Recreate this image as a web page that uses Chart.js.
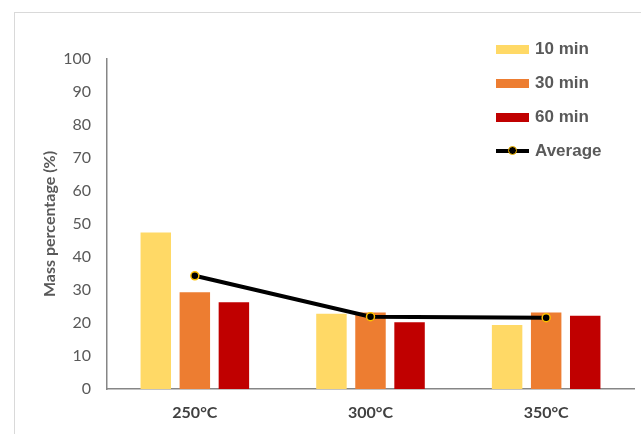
<!DOCTYPE html>
<html>
<head>
<meta charset="utf-8">
<script src="https://cdn.jsdelivr.net/npm/chart.js@4.4.1/dist/chart.umd.min.js"></script>
<style>
  html, body { margin: 0; padding: 0; background: #fff; overflow: hidden; }
  .frame {
    position: absolute; left: 14px; top: 12px; width: 700px; height: 500px;
    border-left: 1px solid #d9d9d9; border-top: 1px solid #d9d9d9;
  }
  #chart { position: absolute; left: 0; top: 0; }
  .legend { position: absolute; left: 496px; top: 0; }
  .legend__item {
    position: absolute; left: 0; width: 140px; height: 20px;
    font: bold 17px "Liberation Sans", Arial, sans-serif; color: #595959;
  }
  .legend__swatch { position: absolute; left: 0; top: 6px; width: 33px; height: 9px; }
  .legend__line { position: absolute; left: 0; top: 8px; width: 33px; height: 4px; background: #000; }
  .legend__dot {
    position: absolute; left: 12px; top: -3px; width: 7px; height: 7px; border-radius: 50%;
    background: #000; border: 1.5px solid #ffc000;
  }
  .legend__label { position: absolute; left: 39px; top: 0; line-height: 20px; white-space: nowrap; }
</style>
</head>
<body>
<div class="frame"></div>
<canvas id="chart" width="641" height="434"></canvas>
<div class="legend" id="legend"></div>
<script>
  const categories = ['250°C', '300°C', '350°C']
  const tenMin = [47.4, 22.8, 19.4]
  const thirtyMin = [29.3, 23.2, 23.2]
  const sixtyMin = [26.3, 20.2, 22.2]
  const average = [34.3, 21.9, 21.6]
  const yTicks = [0, 10, 20, 30, 40, 50, 60, 70, 80, 90, 100]

  const axisColor = '#868686'
  const textColor = '#595959'

  const chart = new Chart(document.getElementById('chart'), {
    data: {
      labels: categories,
      datasets: [
        {
          type: 'line',
          label: 'Average',
          data: average,
          order: 0,
          borderColor: '#000',
          borderWidth: 4,
          pointRadius: 4,
          pointBackgroundColor: '#000',
          pointBorderColor: '#ffc000',
          pointBorderWidth: 1.5,
          tension: 0,
        },
        { type: 'bar', label: '10 min', data: tenMin, backgroundColor: '#ffd966', order: 1 },
        { type: 'bar', label: '30 min', data: thirtyMin, backgroundColor: '#ed7d31', order: 1 },
        { type: 'bar', label: '60 min', data: sixtyMin, backgroundColor: '#c00000', order: 1 },
      ],
    },
    options: {
      responsive: false,
      animation: false,
      categoryPercentage: 0.667,
      barPercentage: 0.78,
      layout: { padding: { top: 59, right: 7, bottom: 0, left: 0 } },
      plugins: {
        legend: { display: false },
        tooltip: { enabled: false },
      },
      scales: {
        x: {
          grid: { display: false, drawTicks: false },
          border: { display: true, color: axisColor, width: 1.5 },
          ticks: {
            padding: 14,
            color: '#404040',
            font: { family: 'Lato', size: 16, weight: 'bold' },
          },
          afterFit: (scale) => { scale.height = 45 },
        },
        y: {
          min: 0,
          max: 100,
          afterBuildTicks: (scale) => { scale.ticks = yTicks.map((value) => ({ value })) },
          grid: { display: false, drawTicks: false },
          border: { display: true, color: axisColor, width: 1.5 },
          ticks: {
            padding: 16,
            color: textColor,
            font: { family: 'Lato', size: 16 },
          },
          title: {
            display: true,
            text: 'Mass percentage (%)',
            color: textColor,
            padding: { top: 40, bottom: 0 },
            font: { family: 'Lato', size: 16, weight: 'bold' },
          },
          afterFit: (scale) => { scale.width = 107 },
        },
      },
    },
  })

  // legend in the Excel order: bars first, then the line
  const legend = document.getElementById('legend')
  const legendOrder = [1, 2, 3, 0]
  const legendCenters = [49, 83, 117, 151]
  legendOrder.forEach((index, i) => {
    const dataset = chart.data.datasets[index]
    const item = document.createElement('div')
    item.className = 'legend__item'
    item.style.top = `${legendCenters[i] - 10}px`
    if (dataset.type === 'line') {
      item.innerHTML = /*html*/ `<span class="legend__line"><span class="legend__dot"></span></span>`
    } else {
      item.innerHTML = /*html*/ `<span class="legend__swatch" style="background: ${dataset.backgroundColor}"></span>`
    }
    const label = document.createElement('span')
    label.className = 'legend__label'
    label.textContent = dataset.label
    item.appendChild(label)
    legend.appendChild(item)
  })
</script>
</body>
</html>
